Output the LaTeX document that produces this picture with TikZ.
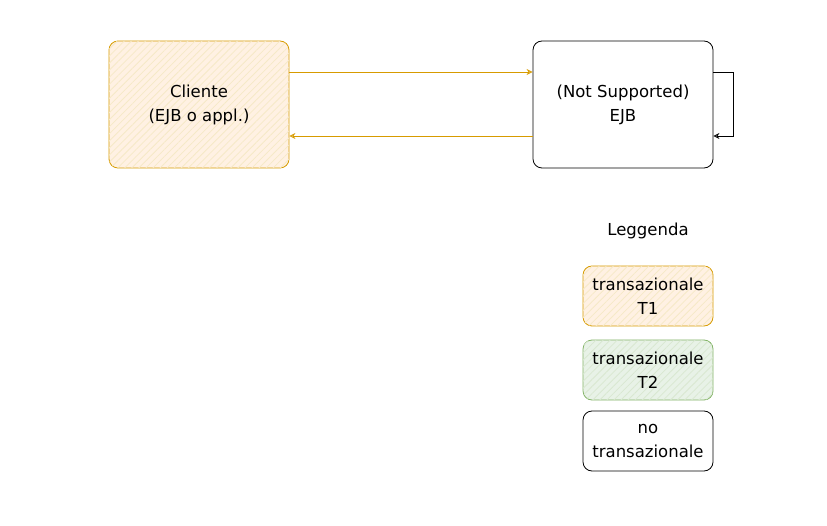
\documentclass[tikz,border=0pt]{standalone}
\usepackage{fontspec}
\setmainfont{DejaVu Sans}
\usetikzlibrary{arrows.meta}
\usetikzlibrary{patterns.meta}
\usetikzlibrary{positioning}
\definecolor{morange}{HTML}{D79B00}
\definecolor{mpeach}{HTML}{FFE6CC}
\definecolor{mgreen}{HTML}{82B366}
\definecolor{mmint}{HTML}{D5E8D4}
\tikzset{box/.style = {draw, line width = 0.8pt, rounded corners = 9pt, align = center, inner sep = 0pt,
                       font = \fontsize{16.5}{24}\selectfont},
         hatch/.style = {postaction = {pattern = {Lines[angle = 45, distance = 5pt, line width = 0.8pt]},
                                       pattern color = #1}},
         tip/.style = {-{Stealth[open, length = 6pt, width = 6pt]}},
         flow/.style = {tip, morange, line width = 0.8pt}}

\begin{document}
\begin{tikzpicture}[x = 1pt, y = -1pt]
      \useasboundingbox (0, 0) rectangle (827, 526);
      \node (cliente) [box, morange, text = black, fill = mpeach!55, hatch = morange!22,
                       minimum width = 180pt, minimum height = 127pt] at (199, 104.5) {Cliente\\(EJB o appl.)};
      \node (ejb) [box, minimum width = 180pt, minimum height = 127pt] at (623, 104.5) {(Not Supported)\\EJB};
      \draw [flow] ([yshift = 32.5pt] cliente.east) -- ([yshift = 32.5pt] ejb.west);
      \draw [flow] ([yshift = -31.5pt] ejb.west) -- ([yshift = -31.5pt] cliente.east);
      \draw [tip, line width = 0.8pt] ([yshift = 32.5pt] ejb.east) -- ++(20, 0)
            |- ([yshift = -31.5pt] ejb.east);
      \node (leggenda) [font = \fontsize{16.5}{18}\selectfont] at (648, 231) {Leggenda};
      \node (t1) [box, morange, text = black, fill = mpeach!55, hatch = morange!22,
                  minimum width = 130pt, minimum height = 60pt] at (648, 296) {transazionale\\T1};
      \node (t2) [box, mgreen, text = black, fill = mmint!55, hatch = mgreen!30,
                  minimum width = 130pt, minimum height = 60pt] at (648, 370) {transazionale\\T2};
      \node (nt) [box, minimum width = 130pt, minimum height = 60pt] at (648, 441) {no\\transazionale};
    \end{tikzpicture}
\end{document}
